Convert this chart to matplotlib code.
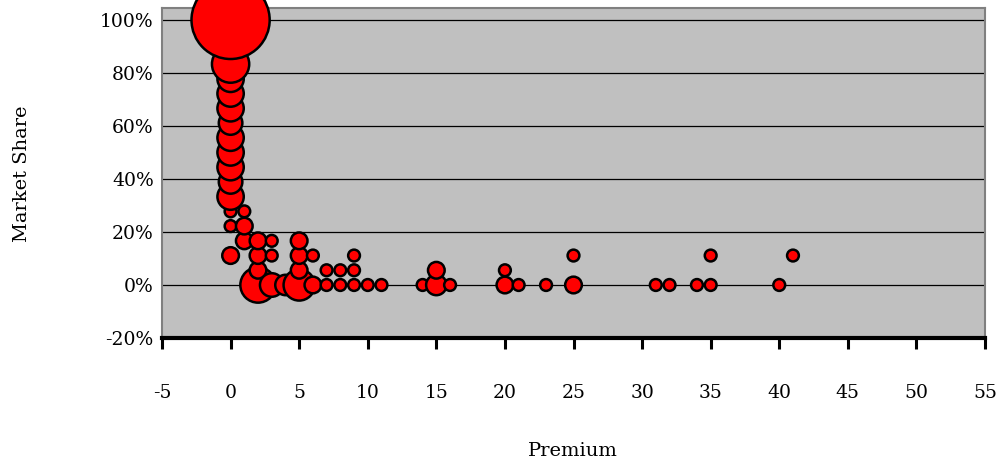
import matplotlib.pyplot as plt
import numpy as np
from matplotlib.ticker import FuncFormatter

# premium, market share (in 1/18 steps), bubble size (count)
premium = [0, 0, 0, 0, 0, 0, 0, 0, 0, 0, 0, 0, 0, 0,
           1, 1, 1,
           2, 2, 2, 2,
           3, 3, 3,
           4,
           5, 5, 5, 5,
           6, 6,
           7, 7, 8, 8, 9, 9, 9, 10, 11,
           14, 15, 15, 16,
           20, 20, 21, 23, 25, 25,
           31, 32, 34, 35, 35, 40, 41]
share_k = [2, 4, 5, 6, 7, 8, 9, 10, 11, 12, 13, 14, 15, 18,
           3, 4, 5,
           0, 1, 2, 3,
           0, 2, 3,
           0,
           0, 1, 2, 3,
           0, 2,
           0, 1, 0, 1, 0, 1, 2, 0, 0,
           0, 0, 1, 0,
           0, 1, 0, 0, 0, 2,
           0, 0, 0, 0, 2, 0, 2]
counts = [2, 1, 1, 5, 4, 5, 5, 5, 4, 5, 5, 5, 10, 44,
          2, 2, 1,
          9, 2, 2, 2,
          4, 1, 1,
          3,
          7, 2, 2, 2,
          2, 1,
          1, 1, 1, 1, 1, 1, 1, 1, 1,
          1, 3, 2, 1,
          2, 1, 1, 1, 2, 1,
          1, 1, 1, 1, 1, 1, 1]

y_ticks = [-0.2, 0, 0.2, 0.4, 0.6, 0.8, 1.0]
x_ticks = list(range(-5, 60, 5))


def main():
    plt.rcParams['axes.unicode_minus'] = False
    fig = plt.figure(figsize=(10.02, 4.63), dpi=100)
    ax = fig.add_axes([162 / 1002, 1 - 338 / 463, 823 / 1002, 330 / 463])
    ax.set_facecolor('#C0C0C0')

    share = np.array(share_k) / 18
    sizes = np.array(counts) * 72
    ax.scatter(premium, share, s=sizes, c='#FF0000', edgecolors='black',
               linewidths=1.8, zorder=3, clip_on=False)

    ax.set_xlim(-5, 55)
    ax.set_ylim(-0.2, 1.045)
    ax.set_xticks(x_ticks)
    ax.set_yticks(y_ticks)
    ax.yaxis.set_major_formatter(FuncFormatter(lambda v, p: f'{v * 100:.0f}%'))

    for v in y_ticks[1:]:
        ax.axhline(v, color='black', lw=0.9, zorder=1)

    for side in ['left', 'top', 'right']:
        ax.spines[side].set_color('#808080')
        ax.spines[side].set_linewidth(1.5)
    ax.spines['bottom'].set_color('black')
    ax.spines['bottom'].set_linewidth(3)

    ax.tick_params(axis='y', length=0, pad=6)
    ax.tick_params(axis='x', direction='out', length=8, width=2.2, pad=25)
    for lbl in ax.get_xticklabels() + ax.get_yticklabels():
        lbl.set_fontfamily('DejaVu Serif')
        lbl.set_fontsize(13.5)

    fig.text(573 / 1002, 1 - 451 / 463, 'Premium', ha='center', va='center',
             family='DejaVu Serif', fontsize=14)
    fig.text(22 / 1002, 1 - 174 / 463, 'Market Share', ha='center', va='center',
             rotation=90, family='DejaVu Serif', fontsize=14)

    fig.savefig('out.png', dpi=100)


if __name__ == '__main__':
    main()
